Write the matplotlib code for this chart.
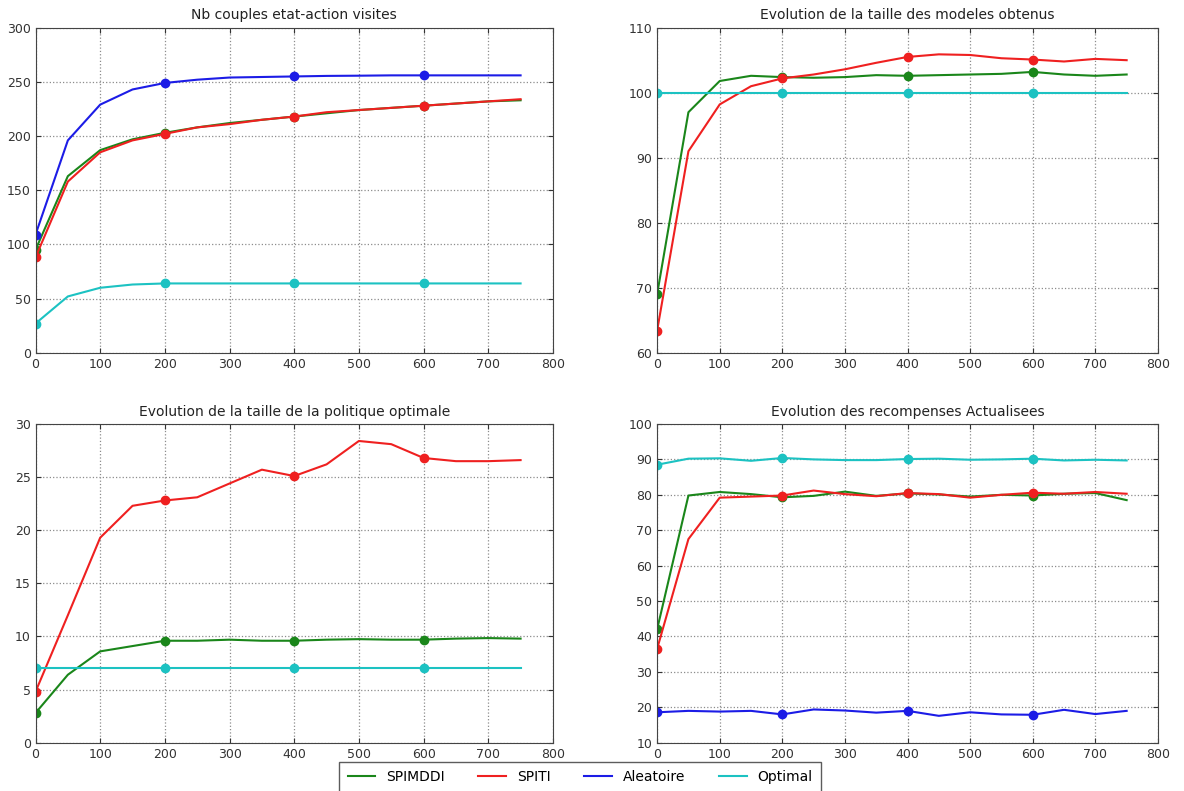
import matplotlib
matplotlib.use('Agg')
import matplotlib.pyplot as plt
import numpy as np

episodes = [0, 50, 100, 150, 200, 250, 300, 350, 400, 450, 500, 550, 600, 650, 700, 750]
labels = ['SPIMDDI', 'SPITI', 'Aleatoire', 'Optimal']
colors = ['#1a861a', '#ef2020', '#1c1ce6', '#1cc2c2']

# Nb couples etat-action visites
visites_spimddi = [95, 163, 187, 197, 203, 208, 212, 215, 218, 221, 224, 226, 228, 230, 232, 233]
visites_spiti = [88, 158, 185, 196, 202, 208, 211, 215, 218, 222, 224, 226, 228, 230, 232, 234]
visites_alea = [109, 196, 229, 243, 249, 252, 254, 254.5, 255, 255.5, 255.7, 256, 256, 256, 256, 256]
visites_opt = [27, 52, 60, 63, 64, 64, 64, 64, 64, 64, 64, 64, 64, 64, 64, 64]

# Evolution de la taille des modeles obtenus
modeles_spimddi = [69, 97, 101.8, 102.6, 102.4, 102.3, 102.4, 102.7, 102.6, 102.7, 102.8, 102.9, 103.2, 102.8, 102.6, 102.8]
modeles_spiti = [63.4, 91, 98.2, 101, 102.2, 102.8, 103.6, 104.6, 105.5, 105.9, 105.8, 105.3, 105.1, 104.8, 105.2, 105]
modeles_opt = [100] * 16

# Evolution de la taille de la politique optimale
politique_spimddi = [2.8, 6.4, 8.6, 9.1, 9.6, 9.6, 9.7, 9.6, 9.6, 9.7, 9.75, 9.7, 9.7, 9.8, 9.85, 9.8]
politique_spiti = [4.8, 12, 19.3, 22.3, 22.8, 23.1, 24.4, 25.7, 25.1, 26.2, 28.4, 28.1, 26.8, 26.5, 26.5, 26.6]
politique_opt = [7] * 16

# Evolution des recompenses Actualisees
recomp_spimddi = [42, 79.8, 80.8, 80.2, 79.3, 79.7, 80.9, 79.7, 80.4, 80.1, 79.5, 80, 79.8, 80.3, 80.5, 78.5]
recomp_spiti = [36.5, 67.5, 79.2, 79.5, 79.8, 81.2, 80.2, 79.6, 80.5, 80.2, 79.2, 80, 80.6, 80.3, 80.8, 80.3]
recomp_alea = [18.6, 19, 18.8, 19, 18, 19.4, 19.1, 18.5, 19, 17.6, 18.6, 18, 17.9, 19.3, 18.1, 19]
recomp_opt = [88.5, 90.2, 90.3, 89.6, 90.4, 90, 89.8, 89.8, 90.1, 90.2, 89.9, 90, 90.2, 89.7, 89.9, 89.7]

panels = [
    ('Nb couples etat-action visites', [visites_spimddi, visites_spiti, visites_alea, visites_opt], (0, 300), [0.030, 0.554, 0.437, 0.411]),
    ('Evolution de la taille des modeles obtenus', [modeles_spimddi, modeles_spiti, None, modeles_opt], (60, 110), [0.555, 0.554, 0.423, 0.411]),
    ('Evolution de la taille de la politique optimale', [politique_spimddi, politique_spiti, None, politique_opt], (0, 30), [0.030, 0.061, 0.437, 0.403]),
    ('Evolution des recompenses Actualisees', [recomp_spimddi, recomp_spiti, recomp_alea, recomp_opt], (10, 100), [0.555, 0.061, 0.423, 0.403]),
]

fig = plt.figure(figsize=(11.84, 7.91), dpi=100)
handles = {}
for title, series, ylim, rect in panels:
    ax = fig.add_axes(rect)
    for lab, col, vals in zip(labels, colors, series):
        if vals is None:
            continue
        line, = ax.plot(episodes, vals, color=col, lw=1.5, marker='o', ms=6,
                        markevery=4, label=lab)
        handles[lab] = line
    ax.set_xlim(0, 800)
    ax.set_ylim(*ylim)
    ax.set_title(title, fontsize=10, color='#222222')
    ax.grid(True, linestyle=':', color='0.55', lw=0.9)
    ax.tick_params(direction='in', top=True, right=True, labelsize=9, colors='#333333')
    for sp in ax.spines.values():
        sp.set_color('#444444')

leg = fig.legend([handles[l] for l in labels], labels, loc='upper center',
                 bbox_to_anchor=(0.49, 0.046), ncol=4, fontsize=10, borderpad=0.6,
                 fancybox=False, edgecolor='#333333', handlelength=2, columnspacing=2.4)
leg.get_frame().set_linewidth(1.0)
for h in leg.legend_handles:
    h.set_marker('')

fig.savefig('out.png', dpi=100)
